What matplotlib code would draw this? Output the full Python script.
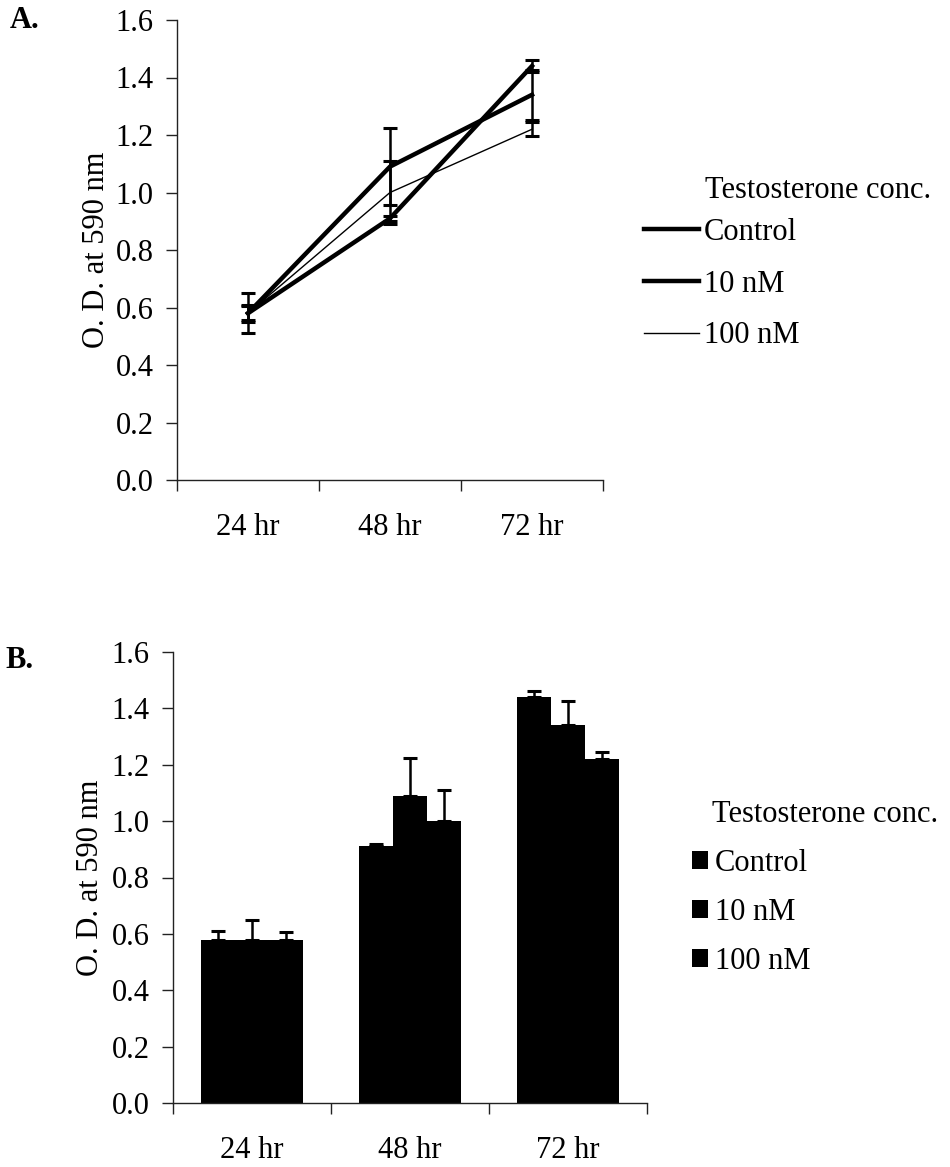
import numpy as np
import matplotlib
matplotlib.use("Agg")
import matplotlib.pyplot as plt
from matplotlib.lines import Line2D
from matplotlib.patches import Patch

plt.rcParams['font.family'] = ['Liberation Serif', 'DejaVu Serif']
plt.rcParams['font.size'] = 22

# data (O.D. at 590 nm, mean and upper error)
times = ['24 hr', '48 hr', '72 hr']
series = ['Control', '10 nM', '100 nM']
control_mean = [0.58, 0.91, 1.44]
control_err = [0.03, 0.01, 0.02]
nm10_mean = [0.58, 1.09, 1.34]
nm10_err = [0.07, 0.135, 0.087]
nm100_mean = [0.58, 1.00, 1.22]
nm100_err = [0.025, 0.11, 0.025]

means = [control_mean, nm10_mean, nm100_mean]
errs = [control_err, nm10_err, nm100_err]
yticks = [0.0, 0.2, 0.4, 0.6, 0.8, 1.0, 1.2, 1.4, 1.6]

W, H = 950, 1167
fig = plt.figure(figsize=(W / 100, H / 100), dpi=100)


def px_axes(left, top, right, bottom):
    return fig.add_axes([left / W, 1 - bottom / H, (right - left) / W, (bottom - top) / H])


def style_axis(ax, label_x):
    ax.spines['top'].set_visible(False)
    ax.spines['right'].set_visible(False)
    for s in ('left', 'bottom'):
        ax.spines[s].set_linewidth(1.0)
        ax.spines[s].set_color('#222222')
    ax.set_xlim(-0.5, 2.5)
    ax.set_ylim(0, 1.6)
    ax.set_yticks(yticks)
    ax.set_yticklabels([f'{v:.1f}' for v in yticks])
    ax.set_xticks([-0.5, 0.5, 1.5, 2.5])
    ax.set_xticklabels([])
    ax.set_xticks([0, 1, 2], minor=True)
    ax.set_xticklabels(times, minor=True)
    ax.tick_params(axis='x', which='major', direction='out', length=8, width=1, color='#222222')
    ax.tick_params(axis='x', which='minor', length=0, pad=24)
    ax.tick_params(axis='y', direction='out', length=8, width=1, color='#222222', pad=9)
    ax.set_ylabel('O. D. at 590 nm')
    ax.yaxis.set_label_coords(label_x, 0.5)


x = np.arange(len(times))

# ---- panel A: line chart
axA = px_axes(177, 20, 603, 480)
style_axis(axA, -0.155)
line_widths = [3.2, 3.2, 1.0]
for i, name in enumerate(series):
    axA.errorbar(x, means[i], yerr=errs[i], color='black', lw=line_widths[i],
                 elinewidth=1.8, capsize=5, capthick=2.2, label=name)

handlesA = [Line2D([], [], color='black', lw=lw) for lw in line_widths]
axA.legend(handlesA, series, loc='upper left', bbox_to_anchor=(644 / W, 1 - 218 / H),
           bbox_transform=fig.transFigure, frameon=False, borderpad=0, borderaxespad=0,
           handlelength=1.8, handletextpad=0.15, labelspacing=0.74)
fig.text(705 / W, 1 - 190 / H, 'Testosterone conc.', ha='left', va='center')
fig.text(10 / W, 1 - 20 / H, 'A.', ha='left', va='center', fontweight='bold')

# ---- panel B: grouped bars
axB = px_axes(173, 652, 647, 1103)
style_axis(axB, -0.143)
bw = 0.217
for i, name in enumerate(series):
    axB.bar(x + (i - 1) * bw, means[i], width=bw, color='black', label=name,
            yerr=[np.zeros(3), errs[i]], error_kw=dict(ecolor='black', elinewidth=1.8,
                                                       capsize=5, capthick=2.2))

handlesB = [Patch(facecolor='black') for _ in series]
axB.legend(handlesB, series, loc='upper left', bbox_to_anchor=(692 / W, 1 - 849 / H),
           bbox_transform=fig.transFigure, frameon=False, borderpad=0, borderaxespad=0,
           handlelength=0.52, handleheight=0.52, handletextpad=0.23, labelspacing=0.65)
fig.text(712 / W, 1 - 815 / H, 'Testosterone conc.', ha='left', va='center')
fig.text(5 / W, 1 - 660 / H, 'B.', ha='left', va='center', fontweight='bold')

fig.savefig('out.png', dpi=100)
